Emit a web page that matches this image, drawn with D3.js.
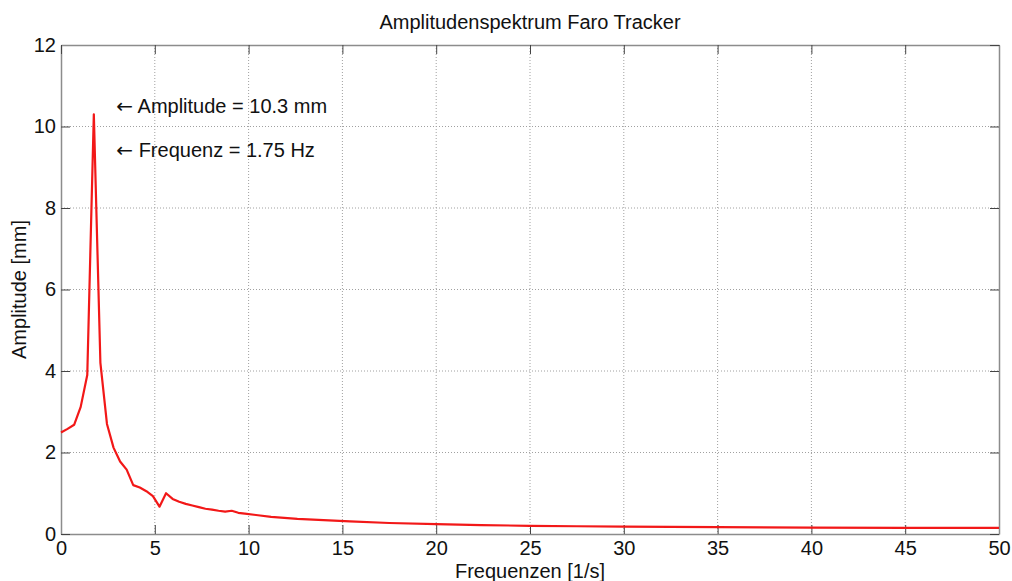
<!DOCTYPE html>
<html>
<head>
<meta charset="utf-8">
<script src="https://cdn.jsdelivr.net/npm/d3@7/dist/d3.min.js"></script>
<style>
  html, body { margin: 0; padding: 0; background: #fff; }
  svg { display: block; font-family: "Liberation Sans", Arial, sans-serif; }
</style>
</head>
<body>
<svg id="chart" width="1012" height="581"></svg>
<script>
// Amplitude spectrum samples (frequency in Hz, amplitude in mm)
const freq = [0, 0.35, 0.7, 1.05, 1.4, 1.75, 2.1, 2.45, 2.8, 3.15, 3.5, 3.85, 4.2, 4.55, 4.9,
  5.25, 5.6, 5.95, 6.3, 6.65, 7.0, 7.35, 7.7, 8.05, 8.4, 8.75, 9.1, 9.45, 9.8,
  10.5, 11.2, 12.6, 14.0, 15.4, 17.5, 20.0, 22.4, 25.0, 27.5, 30.0, 35.0, 40.0, 45.0, 50.0];
const amp = [2.49, 2.58, 2.68, 3.12, 3.90, 10.3, 4.20, 2.70, 2.12, 1.78, 1.58, 1.20, 1.14, 1.05, 0.93,
  0.67, 1.00, 0.86, 0.79, 0.74, 0.70, 0.66, 0.62, 0.60, 0.57, 0.55, 0.57, 0.52, 0.50,
  0.46, 0.42, 0.37, 0.34, 0.31, 0.27, 0.24, 0.22, 0.20, 0.19, 0.18, 0.17, 0.155, 0.15, 0.15];

const xTicks = [0, 5, 10, 15, 20, 25, 30, 35, 40, 45, 50];
const yTicks = [0, 2, 4, 6, 8, 10, 12];

const peakAmp = 10.3;
const peakFreq = 1.75;

const title = "Amplitudenspektrum Faro Tracker";
const xLabel = "Frequenzen [1/s]";
const yLabel = "Amplitude [mm]";

(function draw() {
  const svg = d3.select("#chart");
  const mLeft = 61, mRight = 999, mTop = 45, mBottom = 534;
  const fs = 20;

  const x = d3.scaleLinear().domain([0, 50]).range([mLeft, mRight]);
  const y = d3.scaleLinear().domain([0, 12]).range([mBottom, mTop]);

  // dotted grid
  const grid = svg.append("g").attr("stroke", "#a0a0a0").attr("stroke-width", 1)
    .attr("stroke-dasharray", "1,2");
  xTicks.slice(1, -1).forEach(t => {
    grid.append("line").attr("x1", x(t)).attr("x2", x(t)).attr("y1", mTop).attr("y2", mBottom);
  });
  yTicks.slice(1, -1).forEach(t => {
    grid.append("line").attr("x1", mLeft).attr("x2", mRight).attr("y1", y(t)).attr("y2", y(t));
  });

  // axes with inward ticks on all four sides
  function styleAxis(g) {
    g.select(".domain").attr("stroke", "#8c8c8c").attr("stroke-width", 1.5);
    g.selectAll(".tick line").attr("stroke", "#444").attr("stroke-width", 1);
    g.selectAll(".tick text").attr("fill", "#111").attr("font-size", fs)
      .attr("font-family", "Liberation Sans, Arial, sans-serif");
  }
  const xAxis = svg.append("g").attr("transform", `translate(0,${mBottom})`)
    .call(d3.axisBottom(x).tickValues(xTicks).tickFormat(d3.format("d"))
      .tickSizeInner(-9).tickSizeOuter(0).tickPadding(7));
  styleAxis(xAxis);
  const yAxis = svg.append("g").attr("transform", `translate(${mLeft},0)`)
    .call(d3.axisLeft(y).tickValues(yTicks).tickFormat(d3.format("d"))
      .tickSizeInner(-9).tickSizeOuter(0).tickPadding(5));
  styleAxis(yAxis);
  const xTop = svg.append("g").attr("transform", `translate(0,${mTop})`)
    .call(d3.axisTop(x).tickValues(xTicks).tickFormat("").tickSizeInner(-9).tickSizeOuter(0));
  styleAxis(xTop);
  const yRight = svg.append("g").attr("transform", `translate(${mRight},0)`)
    .call(d3.axisRight(y).tickValues(yTicks).tickFormat("").tickSizeInner(-9).tickSizeOuter(0));
  styleAxis(yRight);

  // spectrum line
  const line = d3.line().x((d, i) => x(freq[i])).y(d => y(d));
  svg.append("path").datum(amp)
    .attr("fill", "none").attr("stroke", "#f21818").attr("stroke-width", 2.2)
    .attr("stroke-linejoin", "round")
    .attr("d", line);

  // peak annotations
  function note(yVal, label) {
    const t = svg.append("text").attr("x", x(2.95)).attr("y", y(yVal)).attr("dy", "0.35em")
      .attr("font-size", fs).attr("fill", "#111");
    t.append("tspan").attr("font-family", "DejaVu Sans").text("\u2190");
    t.append("tspan").text(" " + label);
  }
  note(10.5, `Amplitude = ${peakAmp} mm`);
  note(9.42, `Frequenz = ${peakFreq} Hz`);

  // title and axis labels
  svg.append("text").attr("x", (mLeft + mRight) / 2).attr("y", 29)
    .attr("text-anchor", "middle").attr("font-size", fs).attr("fill", "#111").text(title);
  svg.append("text").attr("x", (mLeft + mRight) / 2).attr("y", 578)
    .attr("text-anchor", "middle").attr("font-size", fs).attr("fill", "#111").text(xLabel);
  svg.append("text").attr("transform", `translate(26,${(mTop + mBottom) / 2}) rotate(-90)`)
    .attr("text-anchor", "middle").attr("font-size", fs).attr("fill", "#111").text(yLabel);
})();
</script>
</body>
</html>
